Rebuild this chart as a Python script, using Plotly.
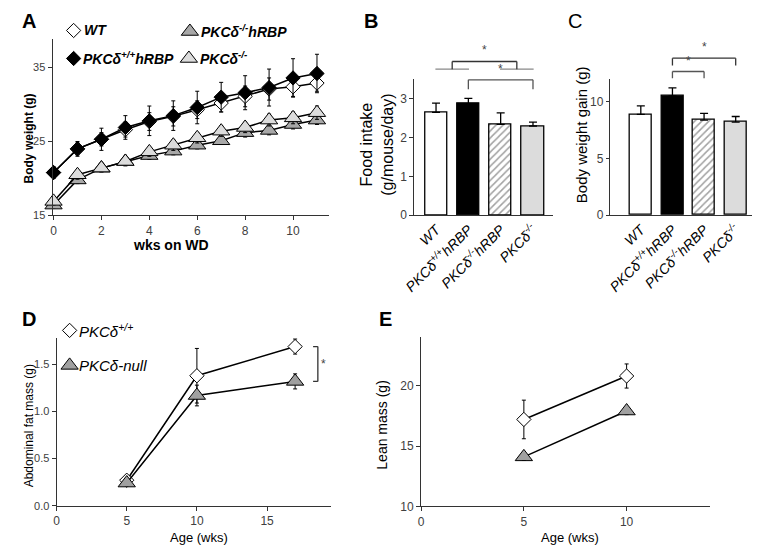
import plotly.graph_objects as go

FONT = "Liberation Sans, Arial, sans-serif"
W, H = 760, 546
# measured mapping of figure pixels to photographed pixels: shot = S * fig + B
SX, BX = 0.982, 21.5
SY, BY = 0.9875, 6.5

# ---------------- data ----------------
# Panel A: body weight on western diet
weeks = [0, 1, 2, 3, 4, 5, 6, 7, 8, 9, 10, 11]
bw_wt = [20.8, 24.0, 25.3, 26.6, 27.7, 28.4, 29.3, 30.2, 31.1, 32.1, 32.4, 32.9]
bw_wt_err = [0.5, 0.8, 0.9, 1.0, 1.2, 1.3, 1.2, 1.2, 1.4, 1.5, 1.3, 1.1]
bw_hrbp = [20.8, 24.0, 25.3, 26.9, 27.8, 28.5, 29.6, 31.0, 31.6, 32.3, 33.6, 34.2]
bw_hrbp_err = [0.8, 1.0, 1.5, 1.6, 2.0, 2.0, 2.2, 2.0, 2.3, 2.5, 2.6, 2.6]
bw_ko_hrbp = [16.4, 19.8, 21.4, 22.3, 23.1, 23.7, 24.5, 25.1, 26.2, 26.5, 27.3, 27.9]
bw_ko_hrbp_err = [0.4, 0.5, 0.5, 0.5, 0.5, 0.5, 0.5, 0.5, 0.6, 0.6, 0.6, 0.6]
bw_ko = [16.9, 20.5, 21.4, 22.3, 23.6, 24.5, 25.5, 26.4, 26.9, 27.9, 28.2, 28.9]
bw_ko_err = [0.5, 0.6, 0.5, 0.6, 0.6, 0.7, 0.7, 0.7, 0.7, 0.8, 0.8, 0.9]
a_xticks = [0, 2, 4, 6, 8, 10]
a_yticks = [15, 25, 35]

# Panels B, C: bar charts
groups = ["WT", "PKCδ<sup>+/+</sup>hRBP", "PKCδ<sup>-/-</sup>hRBP", "PKCδ<sup>-/-</sup>"]
food_intake = [2.65, 2.87, 2.34, 2.30]
food_intake_err = [0.24, 0.14, 0.30, 0.10]
weight_gain = [8.87, 10.5, 8.36, 8.18]
weight_gain_err = [0.75, 0.70, 0.60, 0.50]
b_yticks = [0, 1, 2, 3]
c_yticks = [0, 5, 10]

# Panels D, E
age_fat = [5, 10, 17]
fat_wt = [0.27, 1.38, 1.69]
fat_wt_err = [0.03, 0.29, 0.08]
fat_null = [0.24, 1.17, 1.32]
fat_null_err = [0.03, 0.11, 0.08]
d_xticks = [0, 5, 10, 15]
d_yticks = [0.0, 0.5, 1.0, 1.5]

age_lean = [5, 10]
lean_wt = [17.2, 20.8]
lean_wt_err = [1.6, 1.0]
lean_null = [14.1, 17.9]
lean_null_err = [0.3, 0.3]
e_xticks = [0, 5, 10]
e_yticks = [10, 15, 20]

# ---------------- helpers ----------------
def px_x(p):
    return max(0.0, (p - BX) / SX / W)

def px_y(p):
    return 1 - (p - BY) / SY / H

AXC = "#333333"
TICKC = "#404040"

def axis(domain, rng, anchor, tickvals, size=12, **kw):
    d = dict(domain=domain, range=rng, anchor=anchor, showline=True, linecolor=AXC,
             linewidth=1, ticks="outside", ticklen=4, tickcolor=AXC, tickwidth=1,
             tickvals=tickvals, tickfont=dict(family=FONT, size=size, color=TICKC),
             showgrid=False, zeroline=False, fixedrange=True)
    d.update(kw)
    return d

fig = go.Figure()

# ---------------- Panel A ----------------
a_series = [
    (bw_ko_hrbp, bw_ko_hrbp_err, "triangle-up", 15, "#a8a8a8"),
    (bw_ko, bw_ko_err, "triangle-up", 15, "#dcdcdc"),
    (bw_wt, bw_wt_err, "diamond", 11, "white"),
    (bw_hrbp, bw_hrbp_err, "diamond", 11, "black"),
]
for yv, ev, sym, sz, col in a_series:
    fig.add_trace(go.Scatter(
        x=weeks, y=yv, mode="lines+markers", xaxis="x", yaxis="y",
        line=dict(color="black", width=1.5),
        marker=dict(symbol=sym, size=sz, color=col, line=dict(color="black", width=1)),
        error_y=dict(type="data", array=ev, color="black", thickness=1, width=2),
        cliponaxis=False, showlegend=False, hoverinfo="x+y"))

# ---------------- Panels B & C ----------------
bar_colors = ["white", "black", "white", "#dcdcdc"]
bar_patterns = ["", "", "/", ""]
pos = list(range(len(groups)))
for yv, ev, xa, ya in [(food_intake, food_intake_err, "x2", "y2"),
                       (weight_gain, weight_gain_err, "x3", "y3")]:
    fig.add_trace(go.Bar(
        x=pos, y=yv, width=0.69, xaxis=xa, yaxis=ya,
        marker=dict(color=bar_colors, line=dict(color="black", width=1.3),
                    pattern=dict(shape=bar_patterns, fgcolor="#444444", bgcolor="white",
                                 size=5, solidity=0.3)),
        error_y=dict(type="data", array=ev, arrayminus=[0] * len(ev), symmetric=False,
                     color="black", thickness=1.3, width=4),
        showlegend=False))

# ---------------- Panels D & E ----------------
for xs, yv, ev, sym, sz, col, xa, ya in [
    (age_fat, fat_wt, fat_wt_err, "diamond", 11, "white", "x4", "y4"),
    (age_fat, fat_null, fat_null_err, "triangle-up", 15, "#a0a0a0", "x4", "y4"),
    (age_lean, lean_wt, lean_wt_err, "diamond", 11, "white", "x5", "y5"),
    (age_lean, lean_null, lean_null_err, "triangle-up", 15, "#a0a0a0", "x5", "y5"),
]:
    fig.add_trace(go.Scatter(
        x=xs, y=yv, mode="lines+markers", xaxis=xa, yaxis=ya,
        line=dict(color="black", width=1.5),
        marker=dict(symbol=sym, size=sz, color=col, line=dict(color="black", width=1)),
        error_y=dict(type="data", array=ev, color="black", thickness=1, width=2),
        cliponaxis=False, showlegend=False))

# ---------------- legend keys (overlay in picture pixels) ----------------
legend_keys = [
    # x_px, y_px, symbol, size, colour
    (75, 29, "diamond", 11, "white"),
    (191, 30, "triangle-up", 15, "#a8a8a8"),
    (75, 57, "diamond", 11, "black"),
    (190, 57, "triangle-up", 15, "#dcdcdc"),
    (71, 329, "diamond", 11, "white"),
    (71, 364, "triangle-up", 15, "#a0a0a0"),
]
for kx, ky, sym, sz, col in legend_keys:
    fig.add_trace(go.Scatter(
        x=[kx], y=[ky], mode="markers", xaxis="x6", yaxis="y6",
        marker=dict(symbol=sym, size=sz, color=col, line=dict(color="black", width=1)),
        cliponaxis=False, showlegend=False, hoverinfo="skip"))

# ---------------- layout ----------------
b_dom_y = [px_y(213.7), px_y(78)]
c_dom_y = [px_y(213.7), px_y(77.3)]
layout = dict(
    width=W, height=H, margin=dict(l=0, r=0, t=0, b=0),
    paper_bgcolor="white", plot_bgcolor="rgba(0,0,0,0)",
    font=dict(family=FONT, color="black"),
    bargap=0,
    xaxis=axis([px_x(54), px_x(330)], [-0.04, 11.51], "y", a_xticks),
    yaxis=axis([px_y(214), px_y(38)], [15, 38.8], "x", a_yticks, size=11),
    xaxis2=axis([px_x(415), px_x(553)], [-0.67, 3.61], "y2", pos,
                ticktext=["<i>%s</i>" % g for g in groups], tickangle=-45, ticks="",
                tickfont=dict(family=FONT, size=14, color="black")),
    yaxis2=axis(b_dom_y, [0, 3.5], "x2", b_yticks, size=12),
    xaxis3=axis([px_x(610), px_x(752)], [-0.98, 3.52], "y3", pos,
                ticktext=["<i>%s</i>" % g for g in groups], tickangle=-45, ticks="",
                tickfont=dict(family=FONT, size=14, color="black")),
    yaxis3=axis(c_dom_y, [0, 12], "x3", c_yticks, size=12, ticklen=3),
    xaxis4=axis([px_x(58), px_x(331.7)], [0, 19.55], "y4", d_xticks),
    yaxis4=axis([px_y(504.3), px_y(336.7)], [0, 1.78], "x4", d_yticks,
                tickformat=".1f", size=11),
    xaxis5=axis([px_x(421.7), px_x(710)], [0, 14.06], "y5", e_xticks),
    yaxis5=axis([px_y(505), px_y(336)], [10, 24], "x5", e_yticks),
    xaxis6=dict(domain=[0, 1], range=[BX, BX + W * SX], anchor="y6", visible=False,
                fixedrange=True),
    yaxis6=dict(domain=[0, 1], range=[BY + H * SY, BY], anchor="x6", visible=False,
                fixedrange=True),
)

ann = []

def text(x, y, s, size=14, xanchor="center", yanchor="middle", angle=0, color="black",
         xref="paper", yref="paper"):
    ann.append(dict(x=x, y=y, text=s, showarrow=False, xref=xref, yref=yref,
                    xanchor=xanchor, yanchor=yanchor, textangle=angle,
                    font=dict(family=FONT, size=size, color=color)))

# panel letters
text(0, 1, "<b>A</b>", 20, xanchor="left", yanchor="top")
text(px_x(372), 1, "<b>B</b>", 20, yanchor="top")
text(px_x(575), 1, "C", 20, yanchor="top")
text(0, px_y(318), "<b>D</b>", 20, xanchor="left")
text(px_x(386), px_y(318), "<b>E</b>", 20)

# axis titles
text(0, px_y(137), "<b>Body weight (g)</b>", 12, xanchor="left", angle=-90)
text(px_x(172), px_y(244), "<b>wks on WD</b>", 14)
text(px_x(378), px_y(143), "Food intake<br>(g/mouse/day)", 16, angle=-90)
text(px_x(582), px_y(133), "Body weight gain (g)", 15, angle=-90)
text(0, px_y(425), "Abdominal fat mass (g)", 12, xanchor="left", angle=-90)
text(px_x(200), px_y(536), "Age (wks)", 13)
text(px_x(383), px_y(424), "Lean mass (g)", 14, angle=-90)
text(px_x(570), px_y(536), "Age (wks)", 13)

# legend texts
text(px_x(83), px_y(29), "<b><i>WT</i></b>", 14, xanchor="left")
text(px_x(200), px_y(30), "<b><i>PKCδ<sup>-/-</sup>hRBP</i></b>", 14, xanchor="left")
text(px_x(82), px_y(57), "<b><i>PKCδ<sup>+/+</sup>hRBP</i></b>", 14, xanchor="left")
text(px_x(199), px_y(57), "<b><i>PKCδ<sup>-/-</sup></i></b>", 14, xanchor="left")
text(px_x(78), px_y(329), "<i>PKCδ<sup>+/+</sup></i>", 15, xanchor="left")
text(px_x(78), px_y(364), "<i>PKCδ-null</i>", 15, xanchor="left")

# significance brackets
shapes = []
def seg(x0, y0, x1, y1, xref, yref, color="#333333", width=1.3):
    shapes.append(dict(type="line", x0=x0, y0=y0, x1=x1, y1=y1, xref=xref, yref=yref,
                       line=dict(color=color, width=width)))

def dom(px, top, bottom):
    return (bottom - px) / (bottom - top)

# Panel B
yb = lambda p: dom(p, 78, 213.7)
seg(-0.02, yb(67.7), 1.02, yb(67.7), "x2", "y2 domain", "#888888")
seg(1.98, yb(67.7), 3.02, yb(67.7), "x2", "y2 domain", "#888888")
seg(0.5, yb(67.7), 0.5, yb(60), "x2", "y2 domain")
seg(0.5, yb(60), 2.5, yb(60), "x2", "y2 domain")
seg(2.5, yb(60), 2.5, yb(67.7), "x2", "y2 domain")
text(1.5, yb(58), "*", 12, yanchor="bottom", xref="x2", yref="y2 domain", color="#444")
seg(1, yb(87.7), 1, yb(78.3), "x2", "y2 domain", "#555555")
seg(1, yb(78.3), 3, yb(78.3), "x2", "y2 domain", "#555555")
seg(3, yb(78.3), 3, yb(87.7), "x2", "y2 domain", "#555555")
text(2, yb(77), "*", 12, yanchor="bottom", xref="x2", yref="y2 domain", color="#444")

# Panel C
yc = lambda p: dom(p, 77.3, 213.7)
seg(1, yc(64), 1, yc(56.7), "x3", "y3 domain")
seg(1, yc(56.7), 3, yc(56.7), "x3", "y3 domain")
seg(3, yc(56.7), 3, yc(64), "x3", "y3 domain")
text(2, yc(55), "*", 12, yanchor="bottom", xref="x3", yref="y3 domain", color="#444")
seg(1, yc(76.7), 1, yc(70), "x3", "y3 domain", "#555555")
seg(1, yc(70), 2, yc(70), "x3", "y3 domain", "#555555")
seg(2, yc(70), 2, yc(76.7), "x3", "y3 domain", "#555555")
text(1.5, yc(68.5), "*", 12, yanchor="bottom", xref="x3", yref="y3 domain", color="#444")

# Panel D
seg(18.28, fat_wt[2], 18.62, fat_wt[2], "x4", "y4")
seg(18.62, fat_wt[2], 18.62, fat_null[2], "x4", "y4")
seg(18.28, fat_null[2], 18.62, fat_null[2], "x4", "y4")
text(19.0, (fat_wt[2] + fat_null[2]) / 2, "*", 12, xref="x4", yref="y4", color="#444")

layout["annotations"] = ann
layout["shapes"] = shapes
fig.update_layout(**layout)

fig.write_html("out.html")
